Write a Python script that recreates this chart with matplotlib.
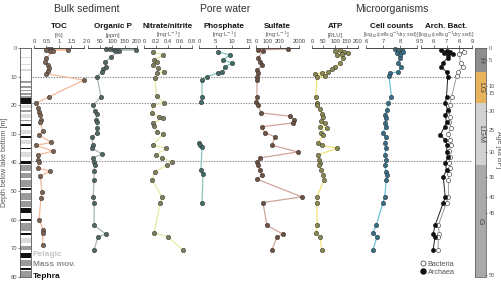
import numpy as np
import matplotlib.pyplot as plt
from matplotlib.lines import Line2D

plt.rcParams['font.family'] = ['Liberation Sans', 'DejaVu Sans']

# ---- data (depth in m below lake bottom) ----
toc_depth = [0.3, 0.5, 0.6, 0.8, 1.0, 1.2, 3.5, 5.0, 6.0, 7.0, 8.0, 9.0, 11.2, 17.0, 19.3, 21.0,
             22.3, 23.4, 25.0, 26.0, 29.0, 30.4, 33.0, 34.0, 36.0, 37.4, 39.0, 39.8, 42.0, 43.0,
             44.7, 50.3, 52.4, 60.0, 63.6, 64.6, 68.8]
toc_val = [0.55, 0.7, 1.35, 0.5, 0.65, 0.75, 0.5, 0.45, 0.55, 0.62, 0.58, 0.5, 2.0, 0.6, 0.1, 0.15,
           0.2, 0.25, 0.3, 0.25, 0.35, 0.2, 0.7, 0.08, 0.75, 0.15, 0.15, 0.2, 0.15, 0.65,
           0.25, 0.32, 0.28, 0.2, 0.38, 0.35, 0.35]

orgp_depth = [0.3, 0.5, 0.6, 0.7, 0.9, 1.1, 3.0, 5.0, 6.6, 7.5, 8.4, 10.0, 17.0, 20.0, 22.0, 23.0,
              25.0, 26.0, 27.8, 29.6, 31.0, 34.0, 35.0, 37.0, 38.4, 39.8, 41.0, 43.0, 46.0, 52.0,
              54.0, 62.0, 65.0, 66.0, 70.6]
orgp_val = [75, 90, 195, 105, 115, 125, 95, 70, 73, 60, 57, 37, 53, 21, 29, 37,
            33, 37, 37, 37, 16, 21, 16, 57, 21, 25, 29, 25, 25, 21,
            25, 25, 73, 41, 24]

nitr_depth = [1.4, 2.4, 4.2, 5.0, 5.9, 7.0, 8.4, 8.8, 10.5, 16.8, 19.2, 20.0, 22.7, 24.0, 24.5,
              26.2, 27.2, 29.3, 30.0, 33.9, 35.0, 37.4, 38.4, 39.8, 40.9, 43.3, 46.0, 52.0,
              54.0, 64.6, 66.0, 70.6]
nitr_val = [0.15, 0.32, 0.17, 0.22, 0.15, 0.23, 0.33, 0.22, 0.18, 0.21, 0.33, 0.15, 0.13, 0.25, 0.32,
            0.15, 0.17, 0.22, 0.32, 0.15, 0.37, 0.2, 0.3, 0.47, 0.38, 0.18, 0.13, 0.3,
            0.27, 0.17, 0.4, 0.65]

phos_depth = [1.4, 2.4, 4.2, 5.2, 6.6, 8.4, 8.7, 10.0, 11.2, 17.0, 19.0, np.nan, 33.2, 34.0,
              34.6, 42.6, 44.0, 54.0]
phos_val = [5.7, 9.3, 7.2, 9.9, 7.8, 6.9, 5.7, 2.4, 0.9, 0.9, 0.6, np.nan, 0.0, 0.3,
            0.9, 0.6, 1.2, 0.9]

sulf_depth = [0.35, 0.7, 1.0, 3.5, 4.9, 6.0, 7.7, 8.7, 10.0, 11.2, 17.0, 19.0, 20.0, 22.7, 23.8,
              25.0, 26.2, 27.5, 29.6, 31.0, 34.0, 36.3, 38.4, 39.8, 40.9, 42.6, 44.4, 45.8,
              52.0, 54.0, 62.0, 65.0, 66.0, 70.6]
sulf_val = [954, 17, 58, 17, 33, 50, 8, 17, 8, 8, 8, 3, 17, 42, 1134,
            1516, 1415, 50, 75, 158, 133, 1888, 33, 8, 17, 33, 50, 8,
            2259, 58, 92, 481, 175, 133]

atp_depth = [0.8, 1.2, 1.5, 1.8, 2.2, 2.6, 3.6, 5.3, 6.6, 7.5, 8.4, 8.7, 9.2, 9.8, 10.3, 17.0,
             19.2, 20.0, 21.3, 23.0, 24.0, 25.5, 26.2, 27.5, 27.8, 29.6, 30.4, 33.2, 34.0, 35.0,
             37.4, 39.0, 40.0, 40.9, 42.6, 44.4, 46.0, 52.0, 54.0, 62.0, 64.6, 66.0, 70.6]
atp_val = [120, 100, 140, 155, 130, 110, 135, 122, 100, 85, 70, 43, 13, 56, 22, 17,
           22, 22, 35, 43, 48, 39, 56, 35, 65, 39, 48, 26, 43, 109,
           26, 30, 35, 30, 39, 48, 52, 22, 22, 22, 17, 35, 43]

cell_depth = [0.5, 0.8, 1.1, 1.4, 1.8, 2.5, 3.5, 5.2, 6.6, 8.4, 8.7, 9.8, 17.0, 19.2, 21.7, 23.4,
              24.5, 26.2, 27.5, 29.6, 31.0, 33.2, 35.0, 37.4, 39.0, 40.9, 43.3, 44.4, 46.0,
              52.0, 54.0, 62.0, 64.6, 66.0, 70.6]
cell_val = [7.7, 8.1, 7.9, 8.2, 7.8, 8.0, 8.0, 7.9, 8.05, 7.9, 7.4, 7.35, 7.5, 7.3, 7.25, 7.1,
            7.2, 7.1, 7.15, 7.0, 7.2, 7.1, 7.2, 7.1, 7.2, 7.1, 7.2, 7.25, 7.2,
            7.1, 7.0, 6.6, 6.4, 6.65, 6.4]

arch_depth = [0.8, 1.0, 1.3, 1.6, 2.0, 2.6, 3.5, 5.2, 6.6, 8.4, 10.0, 17.0, 19.2, 21.7, 23.4,
              25.9, 27.6, 30.4, 32.1, 33.9, 36.3, 38.1, 40.2, 42.6, 45.1, 52.0, 54.0, 62.0,
              65.0, 66.0, 70.6]
arch_val = [6.6, 7.0, 7.3, 6.8, 7.5, 7.1, 7.1, 6.7, 6.6, 7.0, 7.1, 7.0, 6.9, 7.1, 6.9,
            7.0, 6.85, 6.5, 6.9, 7.05, 7.0, 7.1, 6.9, 7.0, 6.75, 6.9, 6.75, 6.1,
            5.95, 6.1, 5.95]

bact_depth = [0.8, 1.4, 2.2, 5.2, 6.6, 8.4, 9.8, 17.0, 20.0, 22.0, 24.0, 26.0, 28.0, 30.0, 32.0,
              34.0, 36.0, 38.0, 40.0, 42.0, 44.0, 46.0, 52.0, 54.0, 62.0, 65.0, 66.0, 70.6]
bact_val = [8.1, 8.4, 8.0, 8.1, 8.3, 7.9, 7.8, 7.4, 7.25, 7.15, 7.3, 7.2, 7.35, 7.1, 7.3,
            7.35, 7.2, 7.3, 7.2, 7.3, 7.2, 7.15, 7.15, 7.0, 6.35, 6.45, 6.35, 6.35]

# lithology: 0 pelagic, 1 mass movement, 2 tephra
litho_top = [3.2, 5.6, 7.5, 11.5, 13.2, 14.5, 15.7, 16.8, 17.6, 20.0, 21.5, 23.0, 25.0, 26.7,
             28.5, 30.6, 32.0, 34.8, 36.5, 39.4, 41.0, 43.5, 46.0, 49.0, 50.5, 53.5, 56.0,
             59.6, 61.0, 64.6, 66.5, 69.0, 71.5, 74.0, 76.8, 78.0]
litho_bot = [3.6, 6.0, 7.9, 12.2, 13.8, 15.0, 16.3, 17.3, 19.6, 21.0, 22.3, 24.5, 25.6, 27.3,
             30.0, 31.3, 33.5, 35.4, 38.0, 40.5, 43.0, 45.5, 48.5, 49.6, 53.0, 55.5, 57.6,
             60.3, 64.0, 65.2, 68.0, 70.5, 73.5, 76.0, 77.4, 80.0]
litho_type = [0, 0, 0, 1, 1, 1, 1, 1, 2, 0, 1, 0, 1, 2,
              0, 2, 0, 2, 0, 2, 1, 1, 1, 2, 1, 1, 2,
              2, 1, 2, 0, 1, 2, 1, 2, 1]

# age-depth model ticks
age_ka = [0, 5, 10, 15, 20, 25, 30, 35, 40, 45, 50]
age_depth = [0, 4.2, 13.3, 15.7, 22.0, 28.6, 36.3, 45.1, 52.1, 57.6, 79.3]
zone_names = ['H', 'LG', 'LGM', 'G']
zone_top = [0, 8.4, 19.2, 40.8]
zone_bot = [8.4, 19.2, 40.8, 80]

W, H = 502, 286
Y0, Y1 = 48, 277


def px_axes(fig, x0, x1):
    return fig.add_axes([x0 / W, (H - Y1) / H, (x1 - x0) / W, (Y1 - Y0) / H])


def ftext(fig, x, y, s, **kw):
    fig.text(x / W, 1 - y / H, s, ha='center', va='center', **kw)


def sulf_fwd(v):
    v = np.asarray(v, dtype=float)
    return np.where(v <= 200, v, 200 + (v - 200) / 11.25)


def sulf_inv(p):
    p = np.asarray(p, dtype=float)
    return np.where(p <= 200, p, 200 + (p - 200) * 11.25)


fig = plt.figure(figsize=(W / 100, H / 100), dpi=100)

# dotted guide lines behind everything
guide = px_axes(fig, 32, 472)
guide.set_ylim(80, 0)
guide.axis('off')
for d in [10.1, 19.2, 39.5]:
    guide.axhline(d, color='#8a8a8a', lw=0.8, ls=(0, (1.2, 1.2)))

mg = r'[mg$\cdot$L$^{-1}$]'
logc = r'[log$_{10}$(cells$\cdot$g$^{-1}$dry sed)]'
panels = [
    (34, 84, (0, 2), [0, 0.5, 1, 1.5, 2], ['0', '0.5', '1', '1.5', '2'], 'TOC', '[%]',
     toc_depth, toc_val, '#f2b99a', '#7d6250'),
    (88, 137, (0, 200), [0, 50, 100, 150, 200], None, 'Organic P', '[ppm]',
     orgp_depth, orgp_val, '#a9b8b6', '#4f6866'),
    (144, 192, (0, 0.8), [0, 0.2, 0.4, 0.6, 0.8], ['0', '0.2', '0.4', '0.6', '0.8'], 'Nitrate/nitrite', mg,
     nitr_depth, nitr_val, '#e6e8a4', '#7e7e5c'),
    (199, 249, (0, 15), [0, 5, 10, 15], None, 'Phosphate', mg,
     phos_depth, phos_val, '#86c6bc', '#3f6d66'),
    (256, 299, (0, 2000), [0, 100, 200, 2000], None, 'Sulfate', mg,
     sulf_depth, sulf_val, '#cfa49c', '#6e5040'),
    (312, 358, (0, 200), [0, 50, 100, 150, 200], None, 'ATP', '[RLU]',
     atp_depth, atp_val, '#f2e27a', '#8a8a50'),
    (366, 417, (6, 9), [6, 7, 8, 9], None, 'Cell counts', logc,
     cell_depth, cell_val, '#6cc0dc', '#356e86'),
]

for x0, x1, xl, ticks, tlabels, title, unit, dep, val, lc, mc in panels:
    ax = px_axes(fig, x0, x1)
    ax.patch.set_alpha(0)
    if title == 'Sulfate':
        ax.set_xscale('function', functions=(sulf_fwd, sulf_inv))
    ax.set_xlim(*xl)
    ax.set_ylim(80, 0)
    ax.plot(val, dep, color=lc, lw=0.9, marker='o', ms=3.2, mfc=mc, mec='#333333',
            mew=0.35, clip_on=False)
    for s in ['left', 'right', 'bottom']:
        ax.spines[s].set_visible(False)
    ax.spines['top'].set_color('#444444')
    ax.spines['top'].set_linewidth(0.7)
    ax.xaxis.tick_top()
    ax.set_xticks(ticks)
    if tlabels is not None:
        ax.set_xticklabels(tlabels)
    else:
        ax.set_xticklabels([str(t) for t in ticks])
    ax.tick_params(axis='x', labelsize=4.2, length=2, width=0.5, pad=0.8, colors='#444444')
    ax.set_yticks([])
    ftext(fig, (x0 + x1) / 2, 26, title, fontsize=5.8, fontweight='bold', color='#111111')
    ftext(fig, (x0 + x1) / 2, 35, unit, fontsize=3.7 if unit == logc else 4.2, color='#555555')

# archaea / bacteria
ab = px_axes(fig, 421, 472)
ab.patch.set_alpha(0)
ab.set_xlim(5, 9)
ab.set_ylim(80, 0)
ab.plot(bact_val, bact_depth, color='#9a9a9a', lw=0.7, marker='o', ms=3.0, mfc='white',
        mec='#555555', mew=0.5, clip_on=False)
ab.plot(arch_val, arch_depth, color='#222222', lw=0.7, marker='o', ms=3.0, mfc='#111111',
        mec='#111111', mew=0.4, clip_on=False)
for s in ['left', 'right', 'bottom']:
    ab.spines[s].set_visible(False)
ab.spines['top'].set_color('#444444')
ab.spines['top'].set_linewidth(0.7)
ab.xaxis.tick_top()
ab.set_xticks([5, 6, 7, 8, 9])
ab.tick_params(axis='x', labelsize=4.2, length=2, width=0.5, pad=0.8, colors='#444444')
ab.set_yticks([])
ftext(fig, 446.5, 26, 'Arch. Bact.', fontsize=5.8, fontweight='bold', color='#111111')
ftext(fig, 446.5, 35, logc, fontsize=3.7, color='#555555')

handles = [Line2D([], [], ls='none', marker='o', ms=3.6, mfc='white', mec='#555555', mew=0.6),
           Line2D([], [], ls='none', marker='o', ms=3.6, mfc='#111111', mec='#111111')]
fig.legend(handles, ['Bacteria', 'Archaea'], loc='upper left',
           bbox_to_anchor=(417 / W, 1 - 257 / H), frameon=False, fontsize=5.2,
           handlelength=0.6, handletextpad=0.4, labelspacing=0.15, borderpad=0,
           labelcolor='#555555')

# section headings
ftext(fig, 87, 9, 'Bulk sediment', fontsize=7.5, color='#333333')
ftext(fig, 225, 9, 'Pore water', fontsize=7.5, color='#333333')
ftext(fig, 392, 9, 'Microorganisms', fontsize=7.5, color='#333333')

# lithology column
lith = px_axes(fig, 20, 31)
lith.set_xlim(0, 1)
lith.set_ylim(80, 0)
litho_colors = ['#dcdcdc', '#9a9a9a', '#111111']
for t, b, k in zip(litho_top, litho_bot, litho_type):
    lith.axhspan(t, b, color=litho_colors[k], lw=0)
lith.set_xticks([])
lith.set_yticks(range(0, 81, 10))
lith.tick_params(axis='y', labelsize=4.2, length=1.5, width=0.5, pad=0.6, colors='#555555')
for s in lith.spines.values():
    s.set_color('#555555')
    s.set_linewidth(0.6)
ftext(fig, 4.5, 162, 'Depth below lake bottom [m]', fontsize=5, rotation=90, color='#555555')
fig.text(33 / W, 1 - 254 / H, 'Pelagic', fontsize=6, fontweight='bold', color='#c4c4c4', va='center')
fig.text(33 / W, 1 - 265 / H, 'Mass mov.', fontsize=6, fontweight='bold', color='#8c8c8c', va='center')
fig.text(33 / W, 1 - 276 / H, 'Tephra', fontsize=6, fontweight='bold', color='#111111', va='center')

# age column
age = px_axes(fig, 475, 486)
age.set_xlim(0, 1)
age.set_ylim(80, 0)
zone_colors = ['#8e8e8e', '#e9b459', '#d2d2d2', '#a9a9a9']
for name, t, b, c in zip(zone_names, zone_top, zone_bot, zone_colors):
    age.axhspan(t, b, color=c, lw=0)
    age.text(0.5, (t + b) / 2, name, rotation=270, ha='center', va='center',
             fontsize=6, color='#444444')
age.set_xticks([])
age.set_yticks(age_depth)
age.set_yticklabels([str(a) for a in age_ka])
age.yaxis.tick_right()
age.tick_params(axis='y', labelsize=4.0, length=2, width=0.5, pad=0.8, colors='#555555',
                direction='inout')
for s in age.spines.values():
    s.set_color('#666666')
    s.set_linewidth(0.6)
ftext(fig, 498.5, 150, 'Age [ka BP]', fontsize=5, rotation=270, color='#555555')

fig.savefig('out.png', dpi=100)
